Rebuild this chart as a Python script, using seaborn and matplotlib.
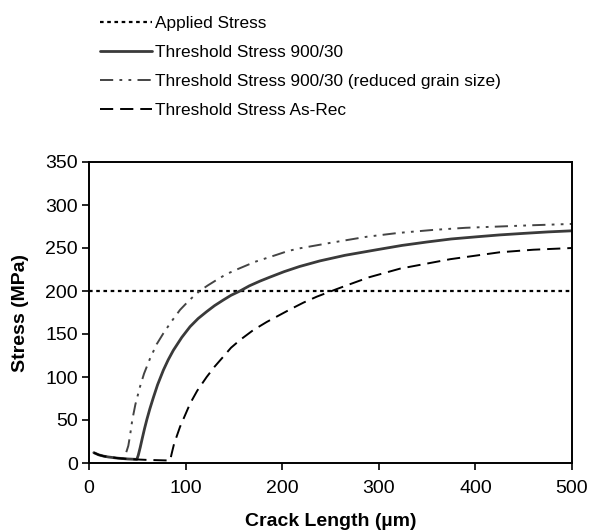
import matplotlib
matplotlib.use("Agg")
import matplotlib.pyplot as plt
import seaborn as sns
import pandas as pd

# ---- data ----
applied_x = [0, 500]
applied_y = [200, 200]

t900_x = [5, 10, 15, 20, 30, 40, 49.5, 51, 53, 55, 57.5, 60, 63, 66.6, 71, 77, 82,
          87.3, 96, 104.6, 113, 121.8, 130, 139, 147, 156.3, 166, 177, 187, 202,
          218, 239, 265, 298, 324, 350, 375, 401, 425, 450, 475, 500]
t900_y = [12, 9.5, 8, 7, 5.6, 4.7, 4.2, 9, 18, 28, 40, 51, 63, 76, 91, 108, 120,
          131, 146, 158.5, 168, 176, 183, 189.5, 195, 200, 206, 211.5, 216, 222.5,
          228.5, 235, 241.5, 248, 253, 257, 260.5, 263, 265.2, 267, 268.7, 270]

tred_x = [5, 10, 15, 20, 30, 35.5, 37, 39, 40.7, 42.5, 44.8, 48, 52.8, 57, 63,
          70, 77, 85, 94.2, 104, 114.5, 123, 132, 142, 153, 172, 194, 206, 218,
          250, 287, 320, 356, 390, 425, 460, 500]
tred_y = [12, 9.5, 8, 7, 5.6, 5, 8, 14, 20, 32, 50, 68, 88.7, 104, 121,
          138, 150.8, 164, 178, 189.5, 200, 206.5, 212.8, 219.5, 225, 234, 242, 246.5,
          249.6, 256, 263, 267.5, 271, 273.5, 275, 276.5, 278]

tasrec_x = [5, 10, 15, 20, 30, 40, 50, 60, 70, 80, 84, 85.6, 88, 94.2, 100, 104.6,
            112, 121.8, 130, 139, 147, 156.3, 170, 184, 208, 222, 236, 250, 263,
            290, 322, 374, 425, 460, 500]
tasrec_y = [12, 9.5, 8, 7, 5.6, 4.7, 4.1, 3.6, 3.3, 3.0, 3.0, 11, 22, 42, 57, 69,
            84, 100, 112, 123.6, 134, 143, 154.5, 164, 178.5, 186.5, 193.5, 199.5, 205,
            216, 226, 237, 245, 248, 250]

labels = ["Applied Stress",
          "Threshold Stress 900/30",
          "Threshold Stress 900/30 (reduced grain size)",
          "Threshold Stress As-Rec"]

x_ticks = [0, 100, 200, 300, 400, 500]
y_ticks = [0, 50, 100, 150, 200, 250, 300, 350]

# ---- style ----
sns.set_style("ticks")
plt.rcParams["font.family"] = ["Liberation Sans", "DejaVu Sans"]
plt.rcParams["lines.scale_dashes"] = False
for key in ["text.color", "axes.labelcolor", "xtick.color", "ytick.color",
            "axes.edgecolor"]:
    plt.rcParams[key] = "black"

fig = plt.figure(figsize=(5.9, 5.3), dpi=100)
ax = fig.add_axes([89 / 590, 1 - 463 / 530, (572 - 89) / 590, (463 - 162) / 530])

series = [
    (applied_x, applied_y, dict(color="black", lw=1.6, linestyle=(0, (2.6, 2.6)))),
    (t900_x, t900_y, dict(color="#3a3a3a", lw=2.0, linestyle="-")),
    (tred_x, tred_y, dict(color="#444444", lw=1.4,
                          linestyle=(0, (9.5, 4.5, 2.0, 4.5, 2.0, 4.5)))),
    (tasrec_x, tasrec_y, dict(color="black", lw=1.4, linestyle=(0, (9.5, 5.0)))),
]

for (xs, ys, kw), lab in zip(series, labels):
    df = pd.DataFrame({"x": xs, "y": ys})
    sns.lineplot(data=df, x="x", y="y", ax=ax, estimator=None, sort=False,
                 label=lab, **kw)

h, l = ax.get_legend_handles_labels()
ax.get_legend().remove()
fig.legend(h, l, loc="upper left", bbox_to_anchor=(100 / 590, 1 - 16 / 530),
           frameon=False, fontsize=12.4, handlelength=3.0, handletextpad=0.2,
           labelspacing=0.8, borderpad=0, borderaxespad=0)

ax.set_xlim(0, 500)
ax.set_ylim(0, 350)
ax.set_xticks(x_ticks)
ax.set_yticks(y_ticks)
ax.tick_params(axis="both", labelsize=14, length=5, width=1.2, color="black",
               labelcolor="black", direction="out")
ax.tick_params(axis="x", pad=7)
ax.tick_params(axis="y", pad=3)
for s in ax.spines.values():
    s.set_linewidth(1.4)
    s.set_color("black")
    s.set_visible(True)

ax.set_xlabel("Crack Length (\u00b5m)", fontsize=14, fontweight="bold", labelpad=12)
ax.set_ylabel("Stress (MPa)", fontsize=14, fontweight="bold", labelpad=12)

fig.savefig("out.png", dpi=100)
